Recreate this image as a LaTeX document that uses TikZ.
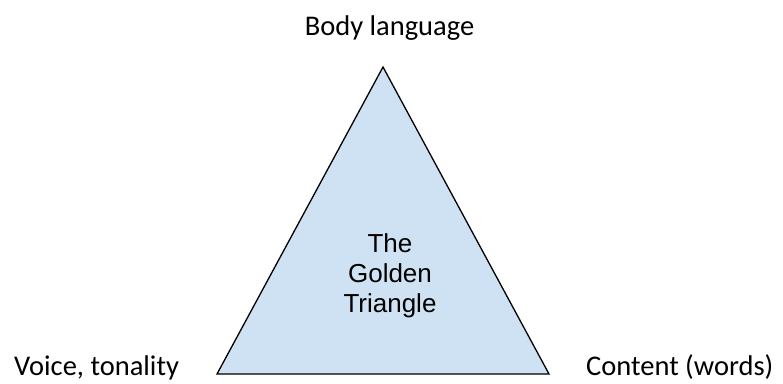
\documentclass[tikz,border=0pt]{standalone}
\usepackage{fontspec}
\setmainfont{Carlito}
\newfontfamily\arialf{Liberation Sans}
\definecolor{trifill}{HTML}{CFE2F3}
\begin{document}
\begin{tikzpicture}[x=1pt,y=-1pt,
  lbl/.style={inner sep=0pt,font=\fontsize{28.5}{34}\selectfont},
  inner/.style={inner sep=0pt,align=center,font=\arialf\fontsize{26}{30}\selectfont}]
\useasboundingbox (0,0) rectangle (783,383);
\coordinate (top) at (383,67);
\coordinate (bl) at (217,374);
\coordinate (br) at (549,374);
\filldraw[fill=trifill,draw=black,line width=1.3pt,line join=miter] (top) -- (bl) -- (br) -- cycle;
\node[lbl,anchor=base] (body) at (389.5,35) {Body language};
\node[lbl,anchor=base west] (voice) at (14,375) {Voice, tonality};
\node[lbl,anchor=base west] (content) at (586,375) {Content (words)};
\node[inner,anchor=base] (the) at (390,252) {The};
\node[inner,anchor=base] (golden) at (390,282) {Golden};
\node[inner,anchor=base] (tri) at (390,312) {Triangle};
\end{tikzpicture}
\end{document}
